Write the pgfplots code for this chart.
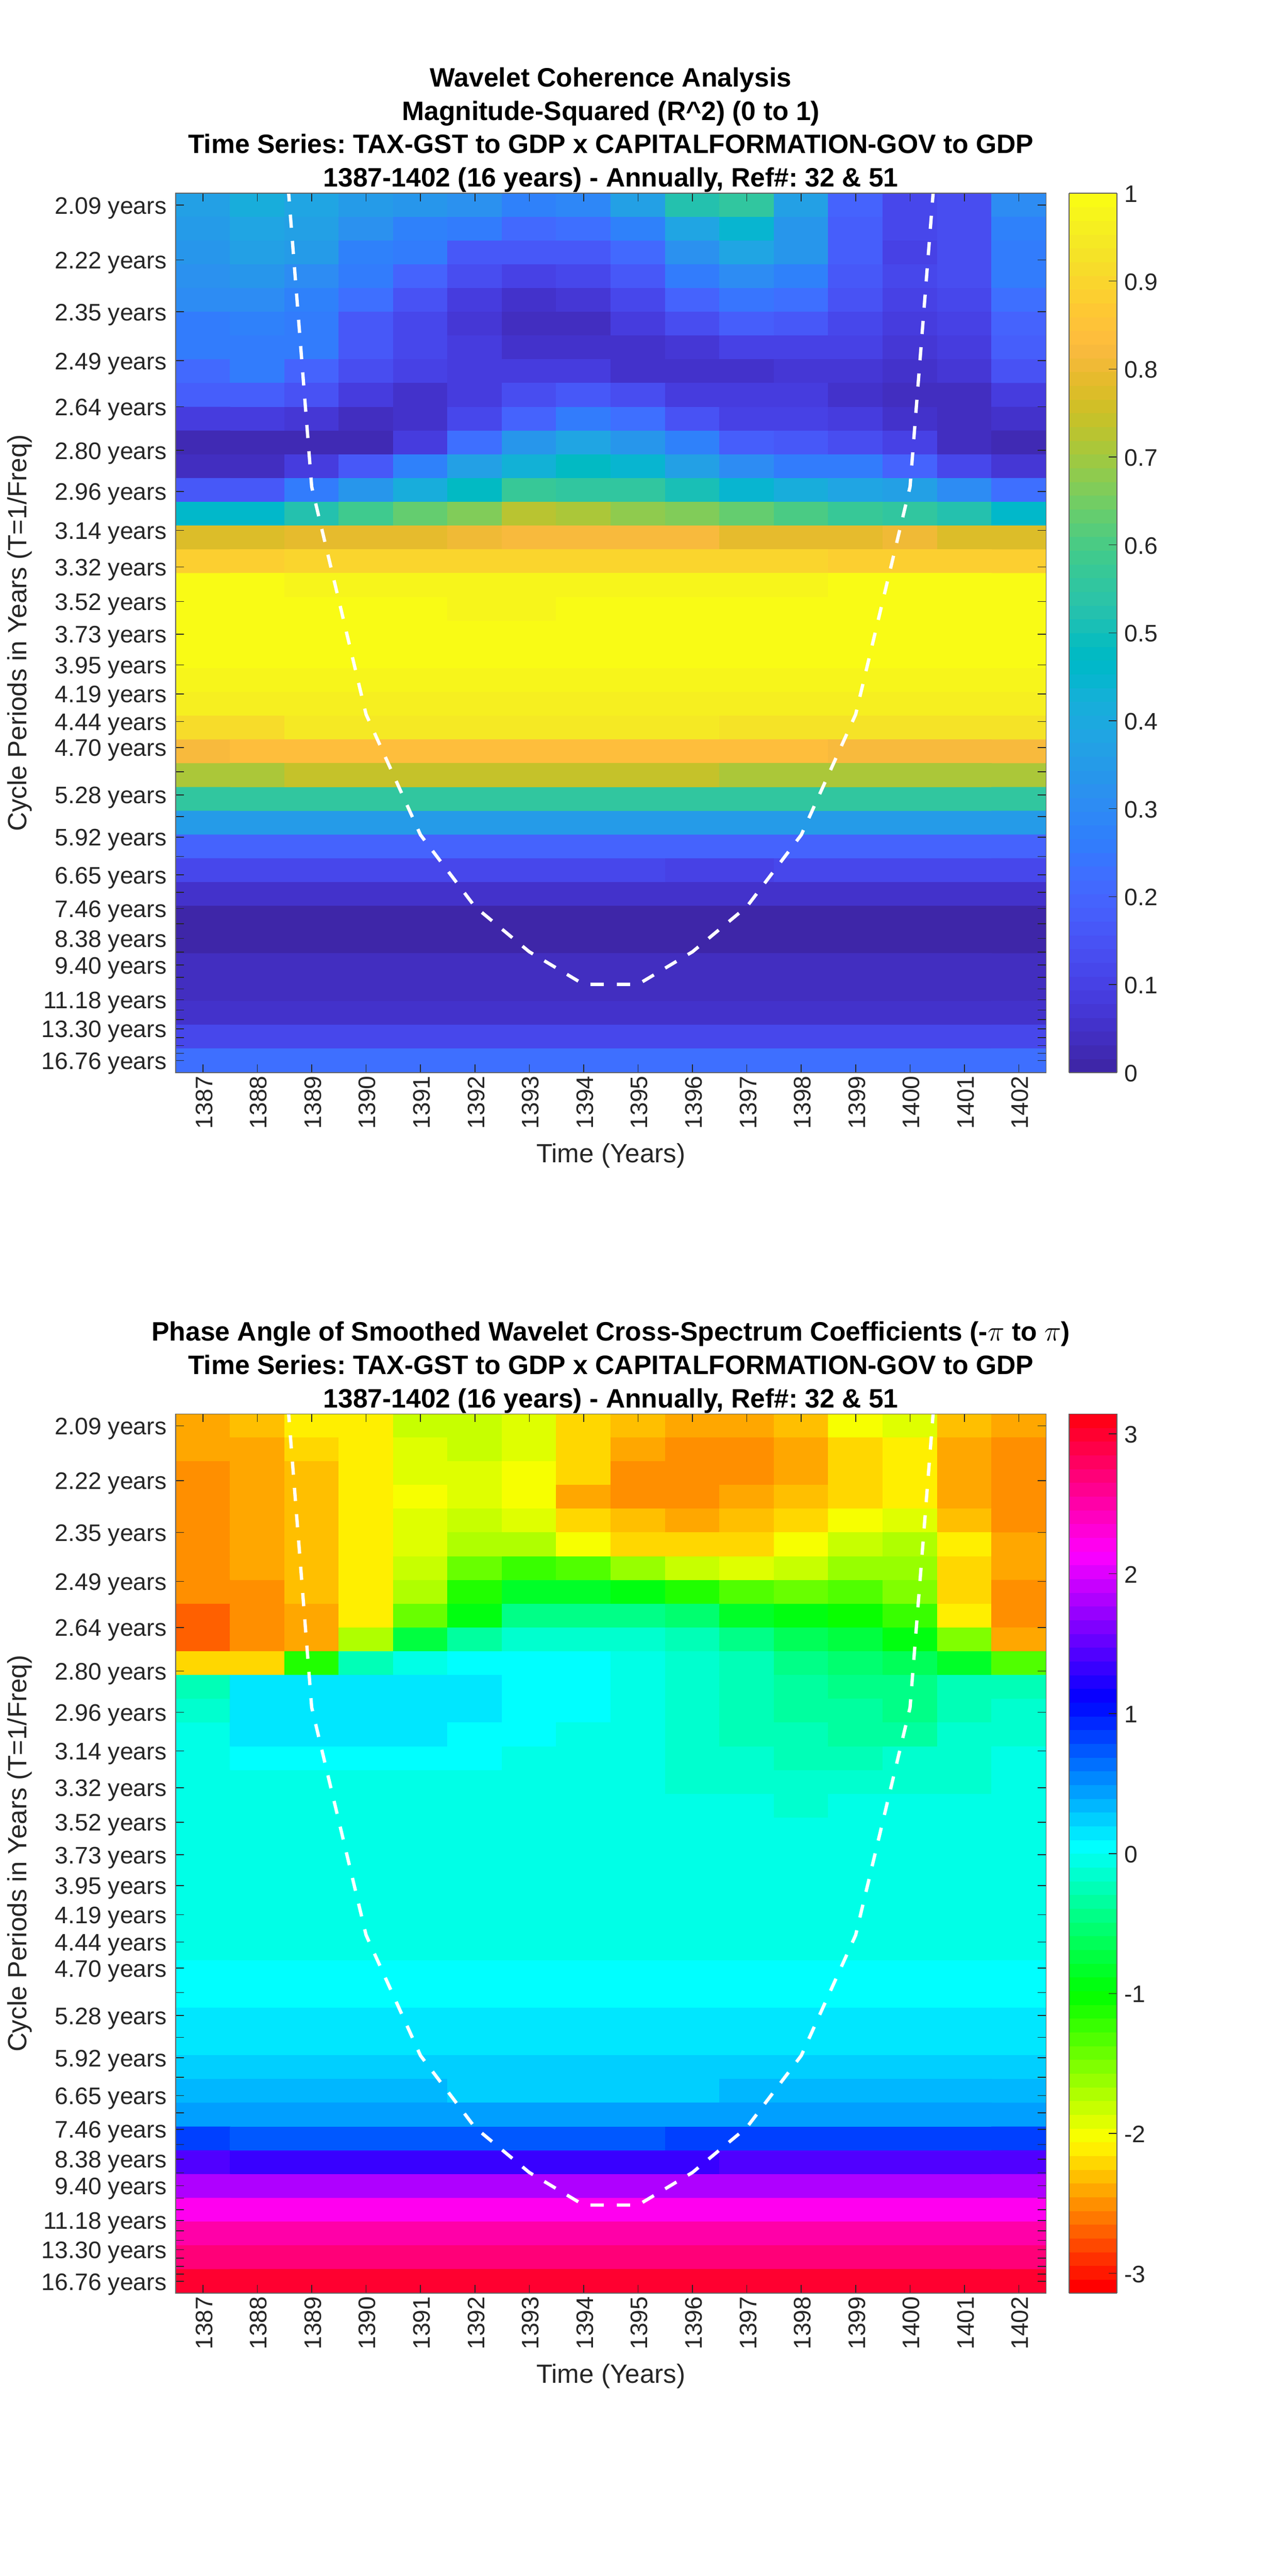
\documentclass[border=0pt]{standalone}
\usepackage{fontspec}
\setmainfont{Liberation Sans}
\usepackage{pgfplots}
\pgfplotsset{compat=1.18}

\definecolor{axgray}{rgb}{0.15,0.15,0.15}
\definecolor{boxgray}{rgb}{0.38,0.38,0.38}

\pgfplotsset{
  colormap={parula64}{rgb=(0.2422,0.1504,0.6603) rgb=(0.2504,0.1650,0.7076) rgb=(0.2578,0.1818,0.7511) rgb=(0.2647,0.1978,0.7952)
    rgb=(0.2706,0.2147,0.8364) rgb=(0.2751,0.2342,0.8710) rgb=(0.2783,0.2559,0.8991) rgb=(0.2803,0.2782,0.9221)
    rgb=(0.2813,0.3006,0.9414) rgb=(0.2810,0.3228,0.9579) rgb=(0.2795,0.3447,0.9717) rgb=(0.2760,0.3667,0.9829)
    rgb=(0.2699,0.3892,0.9906) rgb=(0.2602,0.4123,0.9952) rgb=(0.2440,0.4358,0.9988) rgb=(0.2206,0.4603,0.9973)
    rgb=(0.1963,0.4847,0.9892) rgb=(0.1834,0.5074,0.9798) rgb=(0.1786,0.5289,0.9682) rgb=(0.1764,0.5499,0.9520)
    rgb=(0.1687,0.5703,0.9359) rgb=(0.1540,0.5902,0.9218) rgb=(0.1460,0.6091,0.9079) rgb=(0.1380,0.6276,0.8973)
    rgb=(0.1248,0.6459,0.8883) rgb=(0.1113,0.6635,0.8763) rgb=(0.0952,0.6798,0.8598) rgb=(0.0689,0.6948,0.8394)
    rgb=(0.0297,0.7082,0.8163) rgb=(0.0036,0.7203,0.7917) rgb=(0.0067,0.7312,0.7660) rgb=(0.0433,0.7411,0.7394)
    rgb=(0.0964,0.7500,0.7120) rgb=(0.1408,0.7584,0.6842) rgb=(0.1717,0.7670,0.6554) rgb=(0.1938,0.7758,0.6251)
    rgb=(0.2161,0.7843,0.5923) rgb=(0.2470,0.7918,0.5567) rgb=(0.2906,0.7973,0.5188) rgb=(0.3406,0.8008,0.4789)
    rgb=(0.3909,0.8029,0.4354) rgb=(0.4456,0.8024,0.3909) rgb=(0.5044,0.7993,0.3480) rgb=(0.5616,0.7942,0.3045)
    rgb=(0.6174,0.7876,0.2612) rgb=(0.6720,0.7793,0.2227) rgb=(0.7242,0.7698,0.1910) rgb=(0.7738,0.7598,0.1646)
    rgb=(0.8203,0.7498,0.1535) rgb=(0.8634,0.7406,0.1596) rgb=(0.9035,0.7330,0.1774) rgb=(0.9393,0.7288,0.2100)
    rgb=(0.9728,0.7298,0.2394) rgb=(0.9956,0.7434,0.2371) rgb=(0.9970,0.7659,0.2199) rgb=(0.9952,0.7861,0.1999)
    rgb=(0.9892,0.8122,0.1870) rgb=(0.9786,0.8368,0.1765) rgb=(0.9676,0.8639,0.1643) rgb=(0.9610,0.8890,0.1537)
    rgb=(0.9597,0.9135,0.1423) rgb=(0.9628,0.9373,0.1265) rgb=(0.9691,0.9606,0.1064) rgb=(0.9769,0.9839,0.0805)},
  colormap={hsvbase}{rgb(0pt)=(1,0,0) rgb(60pt)=(1,1,0) rgb(120pt)=(0,1,0) rgb(180pt)=(0,1,1) rgb(240pt)=(0,0,1) rgb(300pt)=(1,0,1) rgb(354.375pt)=(1,0,0.09375)},
  colormap={hsv64}{samples of colormap=(64 of hsvbase)},
  wavelet/.style={
    scale only axis,
    width=528.1bp,
    anchor=south west,
    xmin=0.5, xmax=16.5, ymin=0.5, ymax=37.5,
    y dir=reverse,
    axis on top,
    axis line style={boxgray,line width=0.55bp},
    tick style={axgray,line width=0.5bp},
    tick align=inside,
    major tick length=5bp,
    minor tick num=0,
    xtick={1,...,16},
    xticklabels={1387,1388,1389,1390,1391,1392,1393,1394,1395,1396,1397,1398,1399,1400,1401,1402},
    xticklabel style={rotate=90,anchor=east,xshift=1.5bp,yshift=-0.75bp},
    ytick={1,3.309,5.489,7.546,9.488,11.321,13.051,14.684,16.225,17.680,19.053,20.348,21.571,22.727,23.820,24.844,25.815,26.732,27.597,28.413,29.184,29.912,30.598,31.246,31.857,32.434,32.979,33.494,33.98,34.437,34.870,35.278,35.663,36.027,36.370,36.695,37},
    yticklabels={2.09 years,2.22 years,2.35 years,2.49 years,2.64 years,2.80 years,2.96 years,3.14 years,3.32 years,3.52 years,3.73 years,3.95 years,4.19 years,4.44 years,4.70 years,,5.28 years,,5.92 years,,6.65 years,,7.46 years,,8.38 years,,9.40 years,,,11.18 years,,,13.30 years,,,,16.76 years},
    tick label style={font=\fontsize{14.5bp}{14.5bp}\selectfont,text=axgray},
    yticklabel style={anchor=east,xshift=-2bp,yshift=-1.75bp},
    xlabel={Time (Years)},
    ylabel={Cycle Periods in Years (T=1/Freq)},
    every axis x label/.style={at={(axis description cs:0.5,-0.0946)},anchor=center,font=\fontsize{16bp}{16bp}\selectfont,text=axgray},
    every axis y label/.style={at={(axis description cs:-0.179,0.5)},rotate=90,anchor=center,font=\fontsize{16bp}{16bp}\selectfont,text=axgray},
    title style={align=center,font=\fontsize{16.15bp}{20.25bp}\selectfont\bfseries,at={(axis description cs:0.5,1)},anchor=south,yshift=-9bp},
    colormap access=piecewise constant,
    colorbar sampled,
  },
  cbstyle/.style={
    at={(parent axis.south east)},
    anchor=south west,
    xshift=5.5bp,
    scale only axis,
    width=29bp,
    samples=65,
    axis line style={boxgray,line width=0.55bp},
    tick style={axgray,line width=0.5bp},
    tick align=inside,
    major tick length=5bp,
    xtick=\empty,
    ytick pos=right,
    yticklabel pos=right,
    yticklabel style={anchor=west,xshift=1bp,yshift=-0.5bp,font=\fontsize{14.5bp}{14.5bp}\selectfont,text=axgray},
  },
}

\begin{document}
\frenchspacing
\begin{tikzpicture}
\useasboundingbox (0,0) rectangle (781.25bp,1563bp);

\begin{axis}[
  wavelet,
  at={(106.6bp,912.25bp)},
  height=533.5bp,
  title={Wavelet Coherence Analysis\\Magnitude-Squared (R\textasciicircum 2) (0 to 1)\\Time Series: TAX-GST to GDP x CAPITALFORMATION-GOV to GDP\\1387-1402 (16 years) - Annually, Ref\#: 32 \& 51},
  point meta min=0, point meta max=1,
  colormap name=parula64,
  colorbar style={cbstyle,height=533.5bp,ytick={0,0.1,0.2,0.3,0.4,0.5,0.6,0.7,0.8,0.9,1},yticklabels={0,0.1,0.2,0.3,0.4,0.5,0.6,0.7,0.8,0.9,1}},
]
\addplot[matrix plot*,mesh/cols=16,point meta=explicit] coordinates {
(1,1)[.37] (2,1)[.42] (3,1)[.38] (4,1)[.35] (5,1)[.33] (6,1)[.32] (7,1)[.28] (8,1)[.29] (9,1)[.37] (10,1)[.52] (11,1)[.55] (12,1)[.37] (13,1)[.19] (14,1)[.11] (15,1)[.13] (16,1)[.30]

(1,2)[.35] (2,2)[.38] (3,2)[.37] (4,2)[.32] (5,2)[.28] (6,2)[.26] (7,2)[.21] (8,2)[.22] (9,2)[.28] (10,2)[.38] (11,2)[.45] (12,2)[.33] (13,2)[.18] (14,2)[.11] (15,2)[.13] (16,2)[.27]

(1,3)[.33] (2,3)[.37] (3,3)[.35] (4,3)[.27] (5,3)[.25] (6,3)[.17] (7,3)[.16] (8,3)[.16] (9,3)[.21] (10,3)[.32] (11,3)[.38] (12,3)[.33] (13,3)[.18] (14,3)[.10] (15,3)[.13] (16,3)[.26]

(1,4)[.32] (2,4)[.33] (3,4)[.31] (4,4)[.25] (5,4)[.20] (6,4)[.13] (7,4)[.10] (8,4)[.11] (9,4)[.16] (10,4)[.26] (11,4)[.31] (12,4)[.27] (13,4)[.17] (14,4)[.11] (15,4)[.13] (16,4)[.25]

(1,5)[.30] (2,5)[.31] (3,5)[.28] (4,5)[.22] (5,5)[.15] (6,5)[.09] (7,5)[.06] (8,5)[.07] (9,5)[.12] (10,5)[.19] (11,5)[.24] (12,5)[.22] (13,5)[.15] (14,5)[.10] (15,5)[.11] (16,5)[.23]

(1,6)[.26] (2,6)[.27] (3,6)[.26] (4,6)[.17] (5,6)[.12] (6,6)[.07] (7,6)[.04] (8,6)[.04] (9,6)[.08] (10,6)[.13] (11,6)[.18] (12,6)[.17] (13,6)[.12] (14,6)[.09] (15,6)[.10] (16,6)[.20]

(1,7)[.25] (2,7)[.26] (3,7)[.25] (4,7)[.16] (5,7)[.11] (6,7)[.08] (7,7)[.05] (8,7)[.05] (9,7)[.05] (10,7)[.07] (11,7)[.10] (12,7)[.10] (13,7)[.10] (14,7)[.07] (15,7)[.09] (16,7)[.18]

(1,8)[.21] (2,8)[.26] (3,8)[.20] (4,8)[.14] (5,8)[.10] (6,8)[.08] (7,8)[.08] (8,8)[.08] (9,8)[.05] (10,8)[.05] (11,8)[.05] (12,8)[.07] (13,8)[.07] (14,8)[.05] (15,8)[.07] (16,8)[.15]

(1,9)[.18] (2,9)[.18] (3,9)[.15] (4,9)[.09] (5,9)[.06] (6,9)[.09] (7,9)[.14] (8,9)[.16] (9,9)[.13] (10,9)[.09] (11,9)[.08] (12,9)[.08] (13,9)[.06] (14,9)[.045] (15,9)[.045] (16,9)[.09]

(1,10)[.09] (2,10)[.09] (3,10)[.07] (4,10)[.035] (5,10)[.05] (6,10)[.11] (7,10)[.20] (8,10)[.25] (9,10)[.23] (10,10)[.15] (11,10)[.10] (12,10)[.10] (13,10)[.08] (14,10)[.06] (15,10)[.035] (16,10)[.05]

(1,11)[.02] (2,11)[.02] (3,11)[.025] (4,11)[.03] (5,11)[.09] (6,11)[.22] (7,11)[.33] (8,11)[.38] (9,11)[.33] (10,11)[.27] (11,11)[.18] (12,11)[.16] (13,11)[.13] (14,11)[.10] (15,11)[.04] (16,11)[.02]

(1,12)[.04] (2,12)[.04] (3,12)[.09] (4,12)[.16] (5,12)[.27] (6,12)[.36] (7,12)[.43] (8,12)[.47] (9,12)[.44] (10,12)[.37] (11,12)[.30] (12,12)[.26] (13,12)[.25] (14,12)[.20] (15,12)[.12] (16,12)[.07]

(1,13)[.17] (2,13)[.17] (3,13)[.25] (4,13)[.33] (5,13)[.42] (6,13)[.47] (7,13)[.57] (8,13)[.56] (9,13)[.55] (10,13)[.50] (11,13)[.45] (12,13)[.41] (13,13)[.39] (14,13)[.36] (15,13)[.30] (16,13)[.22]

(1,14)[.46] (2,14)[.46] (3,14)[.53] (4,14)[.59] (5,14)[.63] (6,14)[.67] (7,14)[.72] (8,14)[.71] (9,14)[.68] (10,14)[.66] (11,14)[.63] (12,14)[.60] (13,14)[.57] (14,14)[.55] (15,14)[.52] (16,14)[.46]

(1,15)[.77] (2,15)[.77] (3,15)[.79] (4,15)[.79] (5,15)[.79] (6,15)[.81] (7,15)[.82] (8,15)[.82] (9,15)[.82] (10,15)[.82] (11,15)[.79] (12,15)[.79] (13,15)[.79] (14,15)[.80] (15,15)[.77] (16,15)[.77]

(1,16)[.88] (2,16)[.88] (3,16)[.90] (4,16)[.90] (5,16)[.90] (6,16)[.90] (7,16)[.90] (8,16)[.90] (9,16)[.90] (10,16)[.90] (11,16)[.90] (12,16)[.90] (13,16)[.89] (14,16)[.89] (15,16)[.88] (16,16)[.88]

(1,17)[.99] (2,17)[.99] (3,17)[.975] (4,17)[.975] (5,17)[.975] (6,17)[.975] (7,17)[.975] (8,17)[.975] (9,17)[.975] (10,17)[.975] (11,17)[.975] (12,17)[.975] (13,17)[.99] (14,17)[.99] (15,17)[.99] (16,17)[.99]

(1,18)[.99] (2,18)[.99] (3,18)[.99] (4,18)[.99] (5,18)[.99] (6,18)[.975] (7,18)[.975] (8,18)[.99] (9,18)[.99] (10,18)[.99] (11,18)[.99] (12,18)[.99] (13,18)[.99] (14,18)[.99] (15,18)[.99] (16,18)[.99]

(1,19)[.99] (2,19)[.99] (3,19)[.99] (4,19)[.99] (5,19)[.99] (6,19)[.99] (7,19)[.99] (8,19)[.99] (9,19)[.99] (10,19)[.99] (11,19)[.99] (12,19)[.99] (13,19)[.99] (14,19)[.99] (15,19)[.99] (16,19)[.99]

(1,20)[.99] (2,20)[.99] (3,20)[.99] (4,20)[.99] (5,20)[.99] (6,20)[.99] (7,20)[.99] (8,20)[.99] (9,20)[.99] (10,20)[.99] (11,20)[.99] (12,20)[.99] (13,20)[.99] (14,20)[.99] (15,20)[.99] (16,20)[.99]

(1,21)[.975] (2,21)[.975] (3,21)[.975] (4,21)[.975] (5,21)[.975] (6,21)[.975] (7,21)[.975] (8,21)[.975] (9,21)[.975] (10,21)[.975] (11,21)[.975] (12,21)[.975] (13,21)[.975] (14,21)[.975] (15,21)[.975] (16,21)[.975]

(1,22)[.965] (2,22)[.965] (3,22)[.965] (4,22)[.965] (5,22)[.965] (6,22)[.965] (7,22)[.965] (8,22)[.965] (9,22)[.965] (10,22)[.965] (11,22)[.965] (12,22)[.965] (13,22)[.965] (14,22)[.965] (15,22)[.965] (16,22)[.965]

(1,23)[.92] (2,23)[.92] (3,23)[.94] (4,23)[.94] (5,23)[.94] (6,23)[.94] (7,23)[.94] (8,23)[.94] (9,23)[.94] (10,23)[.94] (11,23)[.925] (12,23)[.925] (13,23)[.925] (14,23)[.925] (15,23)[.925] (16,23)[.925]

(1,24)[.825] (2,24)[.83] (3,24)[.83] (4,24)[.83] (5,24)[.83] (6,24)[.83] (7,24)[.83] (8,24)[.83] (9,24)[.83] (10,24)[.83] (11,24)[.83] (12,24)[.83] (13,24)[.82] (14,24)[.82] (15,24)[.82] (16,24)[.82]

(1,25)[.71] (2,25)[.71] (3,25)[.74] (4,25)[.74] (5,25)[.74] (6,25)[.74] (7,25)[.74] (8,25)[.74] (9,25)[.74] (10,25)[.74] (11,25)[.71] (12,25)[.71] (13,25)[.71] (14,25)[.71] (15,25)[.71] (16,25)[.71]

(1,26)[.55] (2,26)[.55] (3,26)[.55] (4,26)[.55] (5,26)[.55] (6,26)[.55] (7,26)[.55] (8,26)[.55] (9,26)[.55] (10,26)[.55] (11,26)[.55] (12,26)[.55] (13,26)[.55] (14,26)[.55] (15,26)[.55] (16,26)[.55]

(1,27)[.35] (2,27)[.35] (3,27)[.35] (4,27)[.35] (5,27)[.35] (6,27)[.35] (7,27)[.35] (8,27)[.35] (9,27)[.35] (10,27)[.35] (11,27)[.35] (12,27)[.35] (13,27)[.35] (14,27)[.35] (15,27)[.35] (16,27)[.35]

(1,28)[.19] (2,28)[.19] (3,28)[.19] (4,28)[.19] (5,28)[.19] (6,28)[.19] (7,28)[.19] (8,28)[.19] (9,28)[.19] (10,28)[.19] (11,28)[.19] (12,28)[.19] (13,28)[.19] (14,28)[.19] (15,28)[.19] (16,28)[.19]

(1,29)[.115] (2,29)[.115] (3,29)[.115] (4,29)[.115] (5,29)[.115] (6,29)[.115] (7,29)[.115] (8,29)[.115] (9,29)[.115] (10,29)[.10] (11,29)[.10] (12,29)[.115] (13,29)[.115] (14,29)[.115] (15,29)[.115] (16,29)[.115]

(1,30)[.05] (2,30)[.05] (3,30)[.05] (4,30)[.05] (5,30)[.05] (6,30)[.05] (7,30)[.05] (8,30)[.05] (9,30)[.05] (10,30)[.05] (11,30)[.05] (12,30)[.05] (13,30)[.05] (14,30)[.05] (15,30)[.05] (16,30)[.05]

(1,31)[.015] (2,31)[.015] (3,31)[.015] (4,31)[.015] (5,31)[.015] (6,31)[.015] (7,31)[.015] (8,31)[.015] (9,31)[.015] (10,31)[.015] (11,31)[.015] (12,31)[.015] (13,31)[.015] (14,31)[.015] (15,31)[.015] (16,31)[.015]

(1,32)[.015] (2,32)[.015] (3,32)[.015] (4,32)[.015] (5,32)[.015] (6,32)[.015] (7,32)[.015] (8,32)[.015] (9,32)[.015] (10,32)[.015] (11,32)[.015] (12,32)[.015] (13,32)[.015] (14,32)[.015] (15,32)[.015] (16,32)[.015]

(1,33)[.035] (2,33)[.035] (3,33)[.035] (4,33)[.035] (5,33)[.035] (6,33)[.035] (7,33)[.035] (8,33)[.035] (9,33)[.035] (10,33)[.035] (11,33)[.035] (12,33)[.035] (13,33)[.035] (14,33)[.035] (15,33)[.035] (16,33)[.035]

(1,34)[.035] (2,34)[.035] (3,34)[.035] (4,34)[.035] (5,34)[.035] (6,34)[.035] (7,34)[.035] (8,34)[.035] (9,34)[.035] (10,34)[.035] (11,34)[.035] (12,34)[.035] (13,34)[.035] (14,34)[.035] (15,34)[.035] (16,34)[.035]

(1,35)[.055] (2,35)[.055] (3,35)[.055] (4,35)[.055] (5,35)[.055] (6,35)[.055] (7,35)[.055] (8,35)[.055] (9,35)[.055] (10,35)[.055] (11,35)[.055] (12,35)[.055] (13,35)[.055] (14,35)[.055] (15,35)[.055] (16,35)[.055]

(1,36)[.115] (2,36)[.115] (3,36)[.115] (4,36)[.115] (5,36)[.115] (6,36)[.115] (7,36)[.115] (8,36)[.115] (9,36)[.115] (10,36)[.115] (11,36)[.115] (12,36)[.115] (13,36)[.115] (14,36)[.115] (15,36)[.115] (16,36)[.115]

(1,37)[.23] (2,37)[.23] (3,37)[.23] (4,37)[.23] (5,37)[.23] (6,37)[.23] (7,37)[.23] (8,37)[.23] (9,37)[.23] (10,37)[.23] (11,37)[.23] (12,37)[.23] (13,37)[.23] (14,37)[.23] (15,37)[.23] (16,37)[.23]
};
% cone of influence
\addplot[white,line width=2bp,dash pattern=on 8bp off 8bp,no marks] coordinates {
(2,-16.3) (3,12.85) (4,22.43) (5,27.5) (6,30.52) (7,32.42) (8,33.79) (9,33.79) (10,32.42) (11,30.52) (12,27.5) (13,22.43) (14,12.85) (15,-16.3)
};
\end{axis}

\begin{axis}[
  wavelet,
  at={(106.6bp,171.6bp)},
  height=533.5bp,
  title={Phase Angle of Smoothed Wavelet Cross-Spectrum Coefficients (-$\pi$ to $\pi$)\\Time Series: TAX-GST to GDP x CAPITALFORMATION-GOV to GDP\\1387-1402 (16 years) - Annually, Ref\#: 32 \& 51},
  point meta min=-3.14159, point meta max=3.14159,
  colormap name=hsv64,
  colorbar style={cbstyle,height=533.5bp,ytick={-3,-2,-1,0,1,2,3},yticklabels={-3,-2,-1,0,1,2,3}},
]
\addplot[matrix plot*,mesh/cols=16,point meta=explicit] coordinates {
(1,1)[-2.41] (2,1)[-2.31] (3,1)[-2.15] (4,1)[-2.1] (5,1)[-1.83] (6,1)[-1.82] (7,1)[-1.9] (8,1)[-2.17] (9,1)[-2.35] (10,1)[-2.43] (11,1)[-2.42] (12,1)[-2.31] (13,1)[-2.05] (14,1)[-1.91] (15,1)[-2.31] (16,1)[-2.4]

(1,2)[-2.42] (2,2)[-2.43] (3,2)[-2.23] (4,2)[-2.07] (5,2)[-1.92] (6,2)[-1.83] (7,2)[-1.9] (8,2)[-2.25] (9,2)[-2.45] (10,2)[-2.55] (11,2)[-2.55] (12,2)[-2.41] (13,2)[-2.25] (14,2)[-2.15] (15,2)[-2.42] (16,2)[-2.5]

(1,3)[-2.53] (2,3)[-2.43] (3,3)[-2.31] (4,3)[-2.15] (5,3)[-1.93] (6,3)[-1.91] (7,3)[-2.03] (8,3)[-2.25] (9,3)[-2.47] (10,3)[-2.55] (11,3)[-2.55] (12,3)[-2.42] (13,3)[-2.25] (14,3)[-2.15] (15,3)[-2.42] (16,3)[-2.52]

(1,4)[-2.53] (2,4)[-2.43] (3,4)[-2.31] (4,4)[-2.15] (5,4)[-2.03] (6,4)[-1.92] (7,4)[-2.03] (8,4)[-2.37] (9,4)[-2.47] (10,4)[-2.55] (11,4)[-2.45] (12,4)[-2.33] (13,4)[-2.17] (14,4)[-2.15] (15,4)[-2.42] (16,4)[-2.52]

(1,5)[-2.53] (2,5)[-2.43] (3,5)[-2.31] (4,5)[-2.15] (5,5)[-1.91] (6,5)[-1.83] (7,5)[-1.91] (8,5)[-2.25] (9,5)[-2.32] (10,5)[-2.42] (11,5)[-2.32] (12,5)[-2.23] (13,5)[-2.03] (14,5)[-1.91] (15,5)[-2.32] (16,5)[-2.52]

(1,6)[-2.53] (2,6)[-2.43] (3,6)[-2.31] (4,6)[-2.15] (5,6)[-1.91] (6,6)[-1.71] (7,6)[-1.71] (8,6)[-2.05] (9,6)[-2.23] (10,6)[-2.23] (11,6)[-2.23] (12,6)[-2.05] (13,6)[-1.82] (14,6)[-1.73] (15,6)[-2.15] (16,6)[-2.42]

(1,7)[-2.53] (2,7)[-2.43] (3,7)[-2.31] (4,7)[-2.15] (5,7)[-1.82] (6,7)[-1.45] (7,7)[-1.2] (8,7)[-1.35] (9,7)[-1.6] (10,7)[-1.82] (11,7)[-1.92] (12,7)[-1.83] (13,7)[-1.6] (14,7)[-1.6] (15,7)[-2.23] (16,7)[-2.42]

(1,8)[-2.53] (2,8)[-2.53] (3,8)[-2.31] (4,8)[-2.15] (5,8)[-1.7] (6,8)[-1.1] (7,8)[-.87] (8,8)[-.8] (9,8)[-.95] (10,8)[-1.15] (11,8)[-1.32] (12,8)[-1.45] (13,8)[-1.32] (14,8)[-1.5] (15,8)[-2.23] (16,8)[-2.52]

(1,9)[-2.72] (2,9)[-2.53] (3,9)[-2.43] (4,9)[-2.15] (5,9)[-1.43] (6,9)[-.9] (7,9)[-.4] (8,9)[-.4] (9,9)[-.4] (10,9)[-.55] (11,9)[-.8] (12,9)[-.95] (13,9)[-1.0] (14,9)[-1.2] (15,9)[-2.15] (16,9)[-2.52]

(1,10)[-2.72] (2,10)[-2.53] (3,10)[-2.43] (4,10)[-1.7] (5,10)[-.7] (6,10)[-.3] (7,10)[-.17] (8,10)[-.17] (9,10)[-.17] (10,10)[-.25] (11,10)[-.4] (12,10)[-.6] (13,10)[-.7] (14,10)[-.9] (15,10)[-1.55] (16,10)[-2.42]

(1,11)[-2.17] (2,11)[-2.23] (3,11)[-1.15] (4,11)[-.25] (5,11)[-.05] (6,11)[.09] (7,11)[.09] (8,11)[.03] (9,11)[-.05] (10,11)[-.15] (11,11)[-.25] (12,11)[-.45] (13,11)[-.55] (14,11)[-.65] (15,11)[-.8] (16,11)[-1.3]

(1,12)[-.25] (2,12)[.12] (3,12)[.15] (4,12)[.15] (5,12)[.15] (6,12)[.15] (7,12)[.05] (8,12)[.05] (9,12)[-.03] (10,12)[-.15] (11,12)[-.2] (12,12)[-.35] (13,12)[-.4] (14,12)[-.45] (15,12)[-.25] (16,12)[-.2]

(1,13)[-.12] (2,13)[.19] (3,13)[.19] (4,13)[.17] (5,13)[.17] (6,13)[.17] (7,13)[.07] (8,13)[.05] (9,13)[-.03] (10,13)[-.15] (11,13)[-.22] (12,13)[-.35] (13,13)[-.37] (14,13)[-.42] (15,13)[-.28] (16,13)[-.15]

(1,14)[-.09] (2,14)[.1] (3,14)[.15] (4,14)[.15] (5,14)[.15] (6,14)[.08] (7,14)[.08] (8,14)[-.02] (9,14)[-.05] (10,14)[-.15] (11,14)[-.22] (12,14)[-.28] (13,14)[-.3] (14,14)[-.3] (15,14)[-.15] (16,14)[-.1]

(1,15)[-.09] (2,15)[.08] (3,15)[.08] (4,15)[.08] (5,15)[.08] (6,15)[.08] (7,15)[-.02] (8,15)[-.02] (9,15)[-.05] (10,15)[-.15] (11,15)[-.17] (12,15)[-.25] (13,15)[-.27] (14,15)[-.15] (15,15)[-.15] (16,15)[-.02]

(1,16)[-.09] (2,16)[-.05] (3,16)[-.03] (4,16)[-.03] (5,16)[-.03] (6,16)[-.03] (7,16)[-.03] (8,16)[-.03] (9,16)[-.07] (10,16)[-.15] (11,16)[-.15] (12,16)[-.17] (13,16)[-.17] (14,16)[-.15] (15,16)[-.15] (16,16)[-.03]

(1,17)[-.05] (2,17)[-.05] (3,17)[-.05] (4,17)[-.05] (5,17)[-.05] (6,17)[-.05] (7,17)[-.05] (8,17)[-.05] (9,17)[-.05] (10,17)[-.05] (11,17)[-.05] (12,17)[-.15] (13,17)[-.05] (14,17)[-.05] (15,17)[-.05] (16,17)[-.05]

(1,18)[-.05] (2,18)[-.05] (3,18)[-.05] (4,18)[-.05] (5,18)[-.05] (6,18)[-.05] (7,18)[-.05] (8,18)[-.05] (9,18)[-.05] (10,18)[-.05] (11,18)[-.05] (12,18)[-.05] (13,18)[-.05] (14,18)[-.05] (15,18)[-.05] (16,18)[-.05]

(1,19)[-.05] (2,19)[-.05] (3,19)[-.05] (4,19)[-.05] (5,19)[-.05] (6,19)[-.05] (7,19)[-.05] (8,19)[-.05] (9,19)[-.05] (10,19)[-.05] (11,19)[-.05] (12,19)[-.05] (13,19)[-.05] (14,19)[-.05] (15,19)[-.05] (16,19)[-.05]

(1,20)[-.05] (2,20)[-.05] (3,20)[-.05] (4,20)[-.05] (5,20)[-.05] (6,20)[-.05] (7,20)[-.05] (8,20)[-.05] (9,20)[-.05] (10,20)[-.05] (11,20)[-.05] (12,20)[-.05] (13,20)[-.05] (14,20)[-.05] (15,20)[-.05] (16,20)[-.05]

(1,21)[-.05] (2,21)[-.05] (3,21)[-.05] (4,21)[-.05] (5,21)[-.05] (6,21)[-.05] (7,21)[-.05] (8,21)[-.05] (9,21)[-.05] (10,21)[-.05] (11,21)[-.05] (12,21)[-.05] (13,21)[-.05] (14,21)[-.05] (15,21)[-.05] (16,21)[-.05]

(1,22)[-.05] (2,22)[-.05] (3,22)[-.05] (4,22)[-.05] (5,22)[-.05] (6,22)[-.05] (7,22)[-.05] (8,22)[-.05] (9,22)[-.05] (10,22)[-.05] (11,22)[-.05] (12,22)[-.05] (13,22)[-.05] (14,22)[-.05] (15,22)[-.05] (16,22)[-.05]

(1,23)[-.05] (2,23)[-.05] (3,23)[-.05] (4,23)[-.05] (5,23)[-.05] (6,23)[-.05] (7,23)[-.05] (8,23)[-.05] (9,23)[-.05] (10,23)[-.05] (11,23)[-.05] (12,23)[-.05] (13,23)[-.05] (14,23)[-.05] (15,23)[-.05] (16,23)[-.05]

(1,24)[.05] (2,24)[.05] (3,24)[.05] (4,24)[.05] (5,24)[.05] (6,24)[.05] (7,24)[.05] (8,24)[.05] (9,24)[.05] (10,24)[.05] (11,24)[.05] (12,24)[.05] (13,24)[.05] (14,24)[.05] (15,24)[.05] (16,24)[.05]

(1,25)[.05] (2,25)[.05] (3,25)[.05] (4,25)[.05] (5,25)[.05] (6,25)[.05] (7,25)[.05] (8,25)[.05] (9,25)[.05] (10,25)[.05] (11,25)[.05] (12,25)[.05] (13,25)[.05] (14,25)[.05] (15,25)[.05] (16,25)[.05]

(1,26)[.17] (2,26)[.17] (3,26)[.17] (4,26)[.17] (5,26)[.17] (6,26)[.17] (7,26)[.17] (8,26)[.17] (9,26)[.17] (10,26)[.17] (11,26)[.17] (12,26)[.17] (13,26)[.17] (14,26)[.17] (15,26)[.17] (16,26)[.17]

(1,27)[.17] (2,27)[.17] (3,27)[.17] (4,27)[.17] (5,27)[.17] (6,27)[.17] (7,27)[.17] (8,27)[.17] (9,27)[.17] (10,27)[.17] (11,27)[.17] (12,27)[.17] (13,27)[.17] (14,27)[.17] (15,27)[.17] (16,27)[.17]

(1,28)[.26] (2,28)[.26] (3,28)[.26] (4,28)[.26] (5,28)[.26] (6,28)[.26] (7,28)[.26] (8,28)[.26] (9,28)[.26] (10,28)[.26] (11,28)[.26] (12,28)[.26] (13,28)[.26] (14,28)[.26] (15,28)[.26] (16,28)[.26]

(1,29)[.36] (2,29)[.36] (3,29)[.36] (4,29)[.36] (5,29)[.36] (6,29)[.29] (7,29)[.29] (8,29)[.29] (9,29)[.29] (10,29)[.29] (11,29)[.36] (12,29)[.36] (13,29)[.36] (14,29)[.36] (15,29)[.36] (16,29)[.36]

(1,30)[.47] (2,30)[.47] (3,30)[.47] (4,30)[.47] (5,30)[.47] (6,30)[.47] (7,30)[.47] (8,30)[.47] (9,30)[.47] (10,30)[.47] (11,30)[.47] (12,30)[.47] (13,30)[.47] (14,30)[.47] (15,30)[.47] (16,30)[.47]

(1,31)[.85] (2,31)[.75] (3,31)[.75] (4,31)[.75] (5,31)[.75] (6,31)[.75] (7,31)[.75] (8,31)[.75] (9,31)[.75] (10,31)[.87] (11,31)[.87] (12,31)[.87] (13,31)[.87] (14,31)[.87] (15,31)[.87] (16,31)[.87]

(1,32)[1.38] (2,32)[1.3] (3,32)[1.3] (4,32)[1.3] (5,32)[1.3] (6,32)[1.3] (7,32)[1.3] (8,32)[1.3] (9,32)[1.3] (10,32)[1.3] (11,32)[1.43] (12,32)[1.43] (13,32)[1.43] (14,32)[1.43] (15,32)[1.43] (16,32)[1.43]

(1,33)[1.85] (2,33)[1.85] (3,33)[1.77] (4,33)[1.77] (5,33)[1.77] (6,33)[1.77] (7,33)[1.77] (8,33)[1.77] (9,33)[1.77] (10,33)[1.77] (11,33)[1.77] (12,33)[1.77] (13,33)[1.77] (14,33)[1.77] (15,33)[1.85] (16,33)[1.85]

(1,34)[2.2] (2,34)[2.2] (3,34)[2.2] (4,34)[2.2] (5,34)[2.2] (6,34)[2.2] (7,34)[2.2] (8,34)[2.2] (9,34)[2.2] (10,34)[2.2] (11,34)[2.2] (12,34)[2.2] (13,34)[2.2] (14,34)[2.2] (15,34)[2.2] (16,34)[2.2]

(1,35)[2.55] (2,35)[2.55] (3,35)[2.55] (4,35)[2.55] (5,35)[2.47] (6,35)[2.47] (7,35)[2.47] (8,35)[2.47] (9,35)[2.47] (10,35)[2.47] (11,35)[2.47] (12,35)[2.47] (13,35)[2.47] (14,35)[2.47] (15,35)[2.47] (16,35)[2.47]

(1,36)[2.74] (2,36)[2.74] (3,36)[2.74] (4,36)[2.74] (5,36)[2.74] (6,36)[2.74] (7,36)[2.74] (8,36)[2.74] (9,36)[2.74] (10,36)[2.74] (11,36)[2.74] (12,36)[2.74] (13,36)[2.74] (14,36)[2.74] (15,36)[2.74] (16,36)[2.74]

(1,37)[2.95] (2,37)[2.95] (3,37)[2.95] (4,37)[2.95] (5,37)[2.95] (6,37)[2.95] (7,37)[2.95] (8,37)[2.95] (9,37)[2.95] (10,37)[2.95] (11,37)[2.95] (12,37)[2.95] (13,37)[2.95] (14,37)[2.95] (15,37)[2.95] (16,37)[2.95]
};
% cone of influence
\addplot[white,line width=2bp,dash pattern=on 8bp off 8bp,no marks] coordinates {
(2,-16.3) (3,12.85) (4,22.43) (5,27.5) (6,30.52) (7,32.42) (8,33.79) (9,33.79) (10,32.42) (11,30.52) (12,27.5) (13,22.43) (14,12.85) (15,-16.3)
};
\end{axis}
\end{tikzpicture}
\end{document}
